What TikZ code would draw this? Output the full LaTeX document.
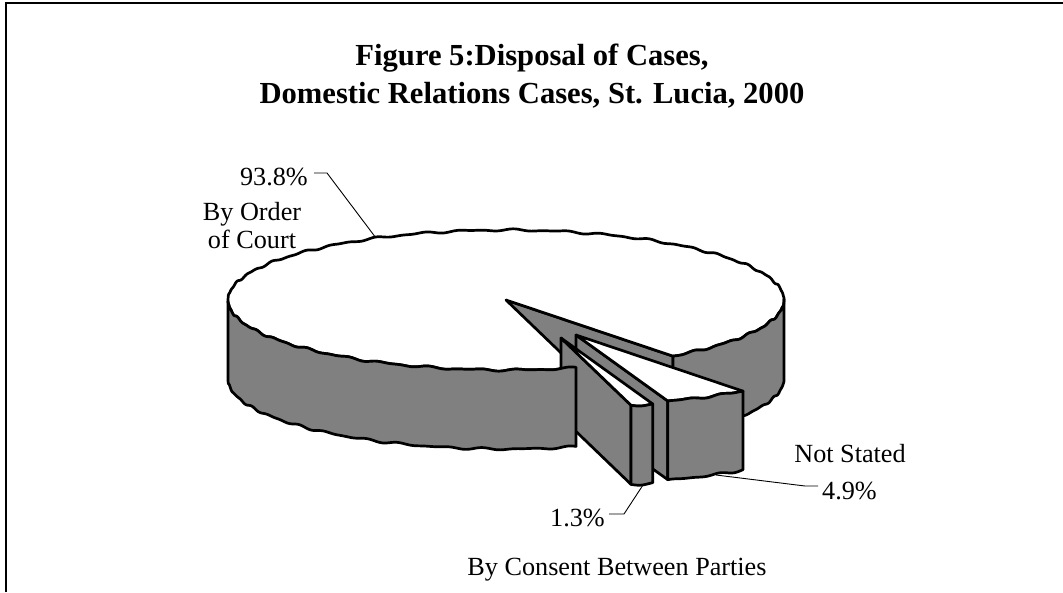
\documentclass[tikz,border=0pt]{standalone}
\usepackage{fontspec}
\setmainfont{Liberation Serif}
\definecolor{pieGrey}{RGB}{128,128,128}
% points on the top and bottom rims of the pie at angle #1 (with a fine ripple;
% the ripple angle is taken relative to 120 degrees to keep the numbers small)
\newcommand\rimx[1]{506+278*cos(#1)}
\newcommand\rimy[1]{300-70*sin(#1)+0.7*sin(37*((#1)-120))+0.5*sin(61*((#1)-120)+30)}
\newcommand\rimyb[1]{379-70*sin(#1)+0.7*sin(41*((#1)-120)+70)+0.5*sin(59*((#1)-120))}
% an exploded slice from angle #1 to #2, moved by (#3,#4)
\newcommand\pieslice[4]{%
  \begin{scope}[shift={(#3,#4)}]
    \draw[wall] (506,300) -- ({\rimx{#1}},{\rimy{#1}}) -- ({\rimx{#1}},{\rimyb{#1}}) -- (506,379) -- cycle;
    \draw[face] (506,300) -- plot[domain=#1:#2, samples=60] ({\rimx{\x}},{\rimy{\x}}) -- cycle;
    \draw[wall] plot[domain=#1:#2, samples=60] ({\rimx{\x}},{\rimy{\x}})
      -- plot[domain=#2:#1, samples=60] ({\rimx{\x}},{\rimyb{\x}}) -- cycle;
  \end{scope}}
\begin{document}
\begin{tikzpicture}[x=1pt,y=-1pt,
  edge/.style={draw=black, line width=2.7pt, line join=round},
  wall/.style={edge, fill=pieGrey},
  face/.style={edge, fill=white},
  leader/.style={draw=black, line width=0.9pt},
  lbl/.style={font=\fontsize{26.2}{30}\selectfont, inner sep=0pt},
  ttl/.style={font=\fontsize{30.6}{36}\selectfont\bfseries, inner sep=0pt, anchor=base}]
\useasboundingbox (0,0) rectangle (1063,592);

% frame
\draw[line width=2pt] (6,592) -- (6,2.5) -- (1063,2.5);

% title
\node[ttl] (title1) at (532,65) {Figure 5:Disposal of Cases,};
\node[ttl] (title2) at (532,103) {Domestic Relations Cases, St. Lucia, 2000};

% cut face of the large slice, seen through the gap
\draw[wall] (506,300) -- ({\rimx{-53.08}},{\rimy{-53.08}}) -- ({\rimx{-53.08}},{\rimyb{-53.08}}) -- (506,379) -- cycle;
% top of the large slice
\draw[face] (506,300) -- plot[domain=-53.08:284.6, samples=900] ({\rimx{\x}},{\rimy{\x}}) -- cycle;
% right-hand wall of the large slice
\draw[wall] plot[domain=-53.08:0, samples=150] ({\rimx{\x}},{\rimy{\x}})
  -- plot[domain=0:-53.08, samples=150] ({\rimx{\x}},{\rimyb{\x}}) -- cycle;

% exploded slices: Not Stated, then By Consent Between Parties
\pieslice{-70.72}{-53.08}{70}{35}
\pieslice{-75.4}{-70.72}{55}{38}

% front wall of the large slice
\draw[wall] plot[domain=180:284.6, samples=300] ({\rimx{\x}},{\rimy{\x}})
  -- plot[domain=284.6:180, samples=300] ({\rimx{\x}},{\rimyb{\x}}) -- cycle;

% labels
\node[lbl, anchor=base east] (p938) at (308,185) {93.8\%};
\node[lbl, anchor=base] (order1) at (252,220) {By Order};
\node[lbl, anchor=base] (order2) at (252,248) {of Court};
\node[lbl, anchor=base] (notst) at (850,462) {Not Stated};
\node[lbl, anchor=base west] (p49) at (822,499) {4.9\%};
\node[lbl, anchor=base east] (p13) at (605,526) {1.3\%};
\node[lbl, anchor=base] (consent) at (617,575) {By Consent Between Parties};

% leader lines
\coordinate (k938) at (327,173);
\coordinate (e938) at (376,238);
\coordinate (k49) at (805,486);
\coordinate (e49) at (716,475);
\coordinate (k13) at (624,514);
\coordinate (e13) at (643,485);
\draw[leader] (p938.east |- k938) ++(6,0) -- (k938) -- (e938);
\draw[leader] (p49.west |- k49) ++(-4,0) -- (k49) -- (e49);
\draw[leader] (p13.east |- k13) ++(4,0) -- (k13) -- (e13);
\end{tikzpicture}
\end{document}
